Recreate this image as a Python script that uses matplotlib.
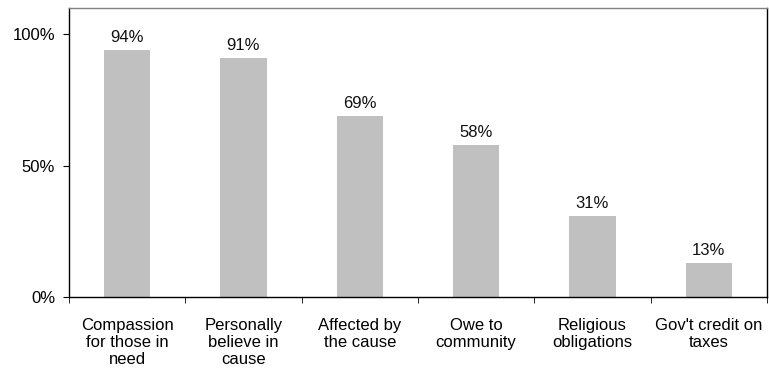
import numpy as np
import matplotlib.pyplot as plt
from matplotlib.ticker import FixedLocator, PercentFormatter

plt.rcParams['font.family'] = ['Liberation Sans', 'DejaVu Sans']

categories = ['Compassion\nfor those in\nneed', 'Personally\nbelieve in\ncause',
              'Affected by\nthe cause', 'Owe to\ncommunity', 'Religious\nobligations',
              "Gov't credit on\ntaxes"]
values = [94, 91, 69, 58, 31, 13]

fig = plt.figure(figsize=(7.69, 3.79), dpi=100)
ax = fig.add_axes([0.0897, 0.2164, 0.9077, 0.7625])

x = np.arange(len(categories))
ax.bar(x, values, width=0.4, color='#C0C0C0', zorder=2)

# value labels above each bar
for xi, v in zip(x, values):
    ax.text(xi, v + 1.8, f'{v}%', ha='center', va='bottom', fontsize=12, color='#111111')

ax.set_xlim(-0.5, len(categories) - 0.5)
ax.set_ylim(0, 110)
ax.set_yticks([0, 50, 100])
ax.yaxis.set_major_formatter(PercentFormatter(decimals=0))
ax.tick_params(axis='y', labelsize=12, length=4, direction='out', pad=6)

# category labels centered, tick marks on the boundaries
ax.set_xticks(x)
ax.set_xticklabels(categories, fontsize=12, linespacing=1.17, va='top')
ax.tick_params(axis='x', which='major', length=0, pad=15)
ax.xaxis.set_minor_locator(FixedLocator(np.arange(-0.5, len(categories), 1.0)))
ax.tick_params(axis='x', which='minor', length=4, direction='out')

for side in ['left', 'bottom', 'right']:
    ax.spines[side].set_color('#000000')
    ax.spines[side].set_linewidth(1.0)
ax.spines['top'].set_color('#808080')
ax.spines['top'].set_linewidth(1.0)

fig.savefig('out.png', dpi=100)
